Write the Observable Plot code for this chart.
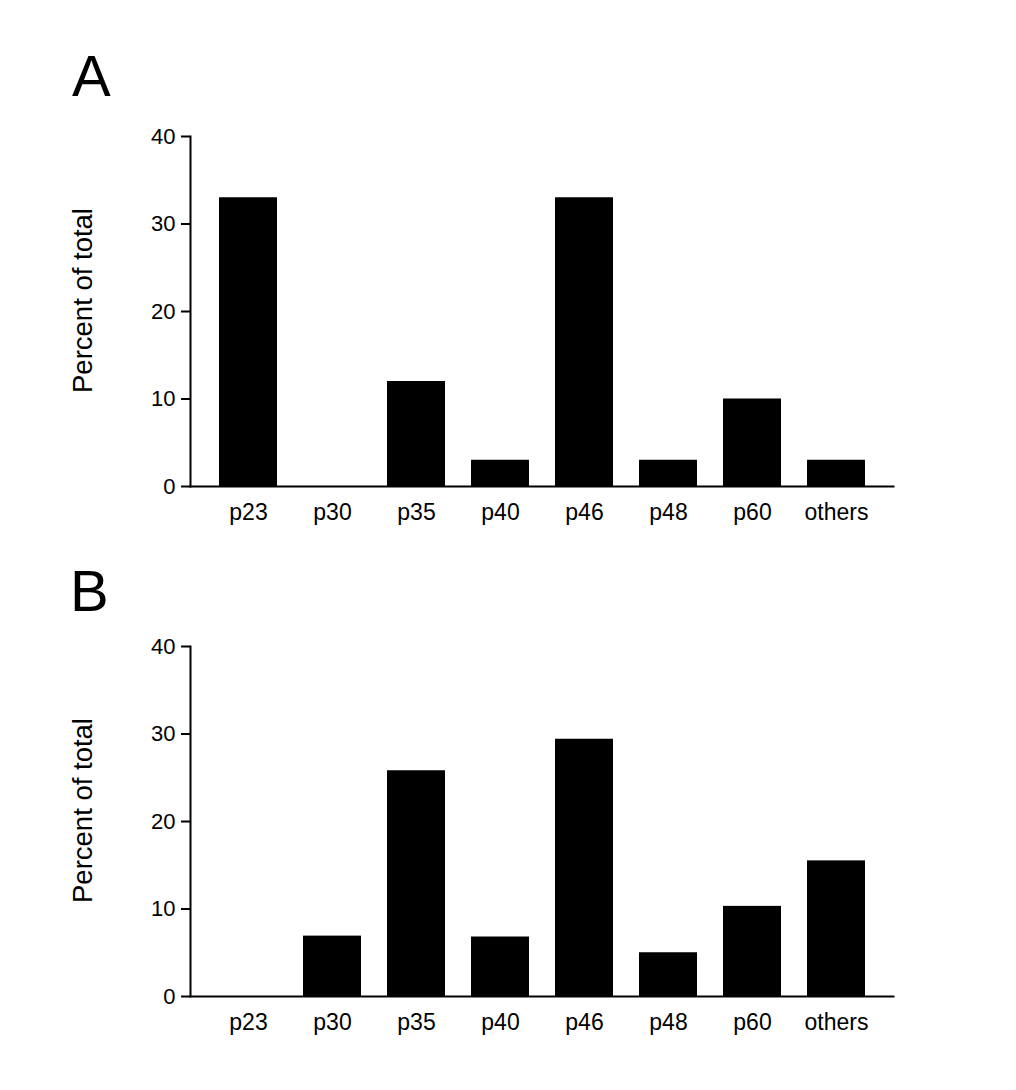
<!DOCTYPE html>
<html>
<head>
<meta charset="utf-8">
<script src="https://cdn.jsdelivr.net/npm/d3@7"></script>
<script src="https://cdn.jsdelivr.net/npm/@observablehq/plot@0.6"></script>
<style>
  html, body { margin: 0; padding: 0; background: #fff; }
  #wrap { position: relative; width: 1016px; height: 1090px; overflow: hidden; background: #fff; font-family: "Liberation Sans", Arial, sans-serif; }
  .panel { position: absolute; left: 0; }
  .letter { position: absolute; font-size: 58px; line-height: 58px; color: #000; font-family: "Liberation Sans", Arial, sans-serif; }
</style>
</head>
<body>
<div id="wrap"></div>
<script>
const categories = ["p23", "p30", "p35", "p40", "p46", "p48", "p60", "others"];
const valuesA = [33, 0, 12, 3, 33, 3, 10, 3];
const valuesB = [0, 6.9, 25.8, 6.8, 29.4, 5.0, 10.3, 15.5];
const yTicks = [0, 10, 20, 30, 40];
const yLabel = "Percent of total";
const panelLetters = ["A", "B"];

function panel(values) {
  const data = categories.map((c, i) => ({category: c, value: values[i]}));
  return Plot.plot({
    width: 1016,
    height: 540,
    marginLeft: 190,
    marginRight: 123,
    marginTop: 136,
    marginBottom: 54,
    style: {fontFamily: "'Liberation Sans', Arial, sans-serif", background: "transparent", color: "#000", overflow: "visible"},
    x: {domain: categories, paddingInner: 0.31, paddingOuter: 0.326},
    y: {domain: [0, 40]},
    marks: [
      Plot.barY(data, {x: "category", y: "value", fill: "#000"}),
      Plot.frame({anchor: "left", stroke: "#000", strokeWidth: 2}),
      Plot.frame({anchor: "bottom", stroke: "#000", strokeWidth: 2}),
      Plot.axisY({ticks: yTicks, tickSize: 9, tickPadding: 6, strokeWidth: 2, fontSize: 22, label: null, tickFormat: d => String(d)}),
      Plot.axisX({tickSize: 0, tickPadding: 17, fontSize: 23, label: null}),
      Plot.text([yLabel], {frameAnchor: "left", textAnchor: "middle", dx: -107, dy: -11, rotate: -90, fontSize: 27.5, fill: "#000"})
    ]
  });
}

const wrap = document.getElementById("wrap");
const tops = [0, 510];
const letterPos = [{left: 72, top: 47}, {left: 70, top: 562}];
[valuesA, valuesB].forEach((vals, i) => {
  const d = document.createElement("div");
  d.className = "panel";
  d.style.top = tops[i] + "px";
  d.appendChild(panel(vals));
  wrap.appendChild(d);
  const l = document.createElement("div");
  l.className = "letter";
  l.style.left = letterPos[i].left + "px";
  l.style.top = letterPos[i].top + "px";
  l.textContent = panelLetters[i];
  wrap.appendChild(l);
});
</script>
</body>
</html>
